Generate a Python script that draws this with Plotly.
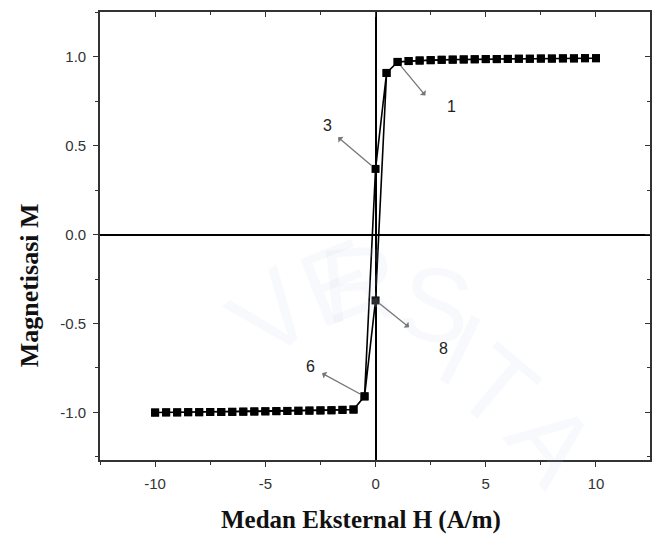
import plotly.graph_objects as go

# Hysteresis loop: magnetisation M against external field H
h_upper = [10, 9.5, 9, 8.5, 8, 7.5, 7, 6.5, 6, 5.5, 5, 4.5, 4, 3.5, 3, 2.5, 2, 1.5, 1]
m_upper = [0.993, 0.993, 0.992, 0.992, 0.991, 0.991, 0.990, 0.990, 0.989, 0.988,
           0.988, 0.987, 0.986, 0.985, 0.984, 0.982, 0.980, 0.977, 0.972]
h_switch = [0.5, 0, -0.5]
m_switch_down = [0.91, 0.37, -0.91]   # descending field
m_switch_up = [0.91, -0.37, -0.91]    # ascending field (listed in h_switch order)
h_lower = [-1, -1.5, -2, -2.5, -3, -3.5, -4, -4.5, -5, -5.5, -6, -6.5, -7, -7.5,
           -8, -8.5, -9, -9.5, -10]
m_lower = [-0.984, -0.986, -0.988, -0.989, -0.990, -0.991, -0.992, -0.993, -0.994,
           -0.995, -0.996, -0.997, -0.998, -0.998, -0.999, -0.999, -1.000, -1.000, -1.001]

# Numbered points along the loop: (label, H, M)
point_labels = ["1", "3", "6", "8"]
point_h = [1, 0, -0.5, 0]
point_m = [0.972, 0.37, -0.91, -0.37]

x_ticks = [-10, -5, 0, 5, 10]
y_ticks = [-1.0, -0.5, 0.0, 0.5, 1.0]

# full loop: down-sweep then up-sweep
h_loop = h_upper + h_switch + h_lower + h_lower[::-1] + h_switch[::-1] + h_upper[::-1]
m_loop = m_upper + m_switch_down + m_lower + m_lower[::-1] + m_switch_up[::-1] + m_upper[::-1]

fig = go.Figure()

# faint repository watermark behind the data
wm_letters = ["V", "E", "R", "S", "I", "T", "A"]
wm_x = [0.19, 0.33, 0.47, 0.61, 0.73, 0.84, 0.95]
wm_y = [0.17, 0.24, 0.25, 0.20, 0.11, 0.01, -0.11]
wm_rot = [-38, -22, -6, 10, 26, 40, 52]
for t, xx, yy, rr in zip(wm_letters, wm_x, wm_y, wm_rot):
    fig.add_annotation(x=xx, y=yy, xref="paper", yref="paper", text=t, showarrow=False,
                       textangle=rr, font=dict(family="Liberation Sans", size=105,
                                               color="rgba(200,208,232,0.12)"))

fig.add_trace(go.Scatter(
    x=h_loop, y=m_loop, mode="lines+markers",
    line=dict(color="black", width=1.6),
    marker=dict(symbol="square", size=8, color="black"),
    showlegend=False, hoverinfo="x+y",
))
# companion trace carrying the mirrored top/right axes
fig.add_trace(go.Scatter(x=h_loop, y=m_loop, xaxis="x2", yaxis="y2", mode="lines",
                         line=dict(width=0), showlegend=False, hoverinfo="skip"))

x_range = [-12.5, 12.45]
y_range = [-1.268, 1.253]

axis_font = dict(family="Liberation Sans", size=15, color="#333")
fig.update_layout(
    width=654, height=539,
    margin=dict(l=100, r=2, t=12, b=79),
    paper_bgcolor="white", plot_bgcolor="white",
    xaxis=dict(range=x_range, tickvals=x_ticks, ticktext=[str(v) for v in x_ticks],
               ticks="outside", ticklen=5, tickwidth=1.2, tickcolor="#333",
               minor=dict(ticks="outside", ticklen=3, dtick=2.5, tickcolor="#333"),
               showline=True, linecolor="#333", linewidth=1.6, mirror=True,
               showgrid=False, zeroline=True, zerolinecolor="black", zerolinewidth=1.6,
               tickfont=axis_font, ticklabelstandoff=4),
    yaxis=dict(range=y_range, tickvals=y_ticks, ticktext=[f"{v:.1f}" for v in y_ticks],
               ticks="outside", ticklen=5, tickwidth=1.2, tickcolor="#333",
               minor=dict(ticks="outside", ticklen=3, dtick=0.25, tickcolor="#333"),
               showline=True, linecolor="#333", linewidth=1.6, mirror=True,
               showgrid=False, zeroline=True, zerolinecolor="black", zerolinewidth=1.6,
               tickfont=axis_font, ticklabelstandoff=4),
    xaxis2=dict(range=x_range, overlaying="x", side="top", anchor="y2",
                tickvals=x_ticks, ticks="inside", ticklen=5, tickcolor="#333",
                minor=dict(ticks="inside", ticklen=3, dtick=2.5, tickcolor="#333"),
                showticklabels=False, showgrid=False, zeroline=False, showline=False),
    yaxis2=dict(range=y_range, overlaying="y", side="right", anchor="x2",
                tickvals=y_ticks, ticks="inside", ticklen=5, tickcolor="#333",
                minor=dict(ticks="inside", ticklen=3, dtick=0.25, tickcolor="#333"),
                showticklabels=False, showgrid=False, zeroline=False, showline=False),
)

# axis titles
fig.add_annotation(x=0.474, y=-0.134, xref="paper", yref="paper",
                   xanchor="center", yanchor="middle",
                   text="<b>Medan Eksternal H (A/m)</b>", showarrow=False,
                   font=dict(family="Liberation Serif", size=25, color="#111"))
fig.add_annotation(x=-0.129, y=0.39, xref="paper", yref="paper",
                   xanchor="center", yanchor="middle",
                   text="<b>Magnetisasi M</b>", showarrow=False, textangle=-90,
                   font=dict(family="Liberation Serif", size=26, color="#111"))

# arrows pointing away from the numbered points, and their numbers
arrow_dx = [29, -39, -44, 35]
arrow_dy = [35, -33, -24, 28]
label_dx = [54, -48, -54, 68]
label_dy = [-45, 43, 30, -48]
for lab, hx, my, adx, ady, ldx, ldy in zip(point_labels, point_h, point_m,
                                            arrow_dx, arrow_dy, label_dx, label_dy):
    fig.add_annotation(x=hx, y=my, ax=adx, ay=ady, text="", showarrow=True,
                       arrowside="start", arrowhead=2, arrowsize=1.2, arrowwidth=1.3,
                       arrowcolor="#777", standoff=5)
    fig.add_annotation(x=hx, y=my, text=lab, showarrow=False, xshift=ldx, yshift=ldy,
                       font=dict(family="Liberation Sans", size=16, color="#222"))

fig.write_html("out.html")
